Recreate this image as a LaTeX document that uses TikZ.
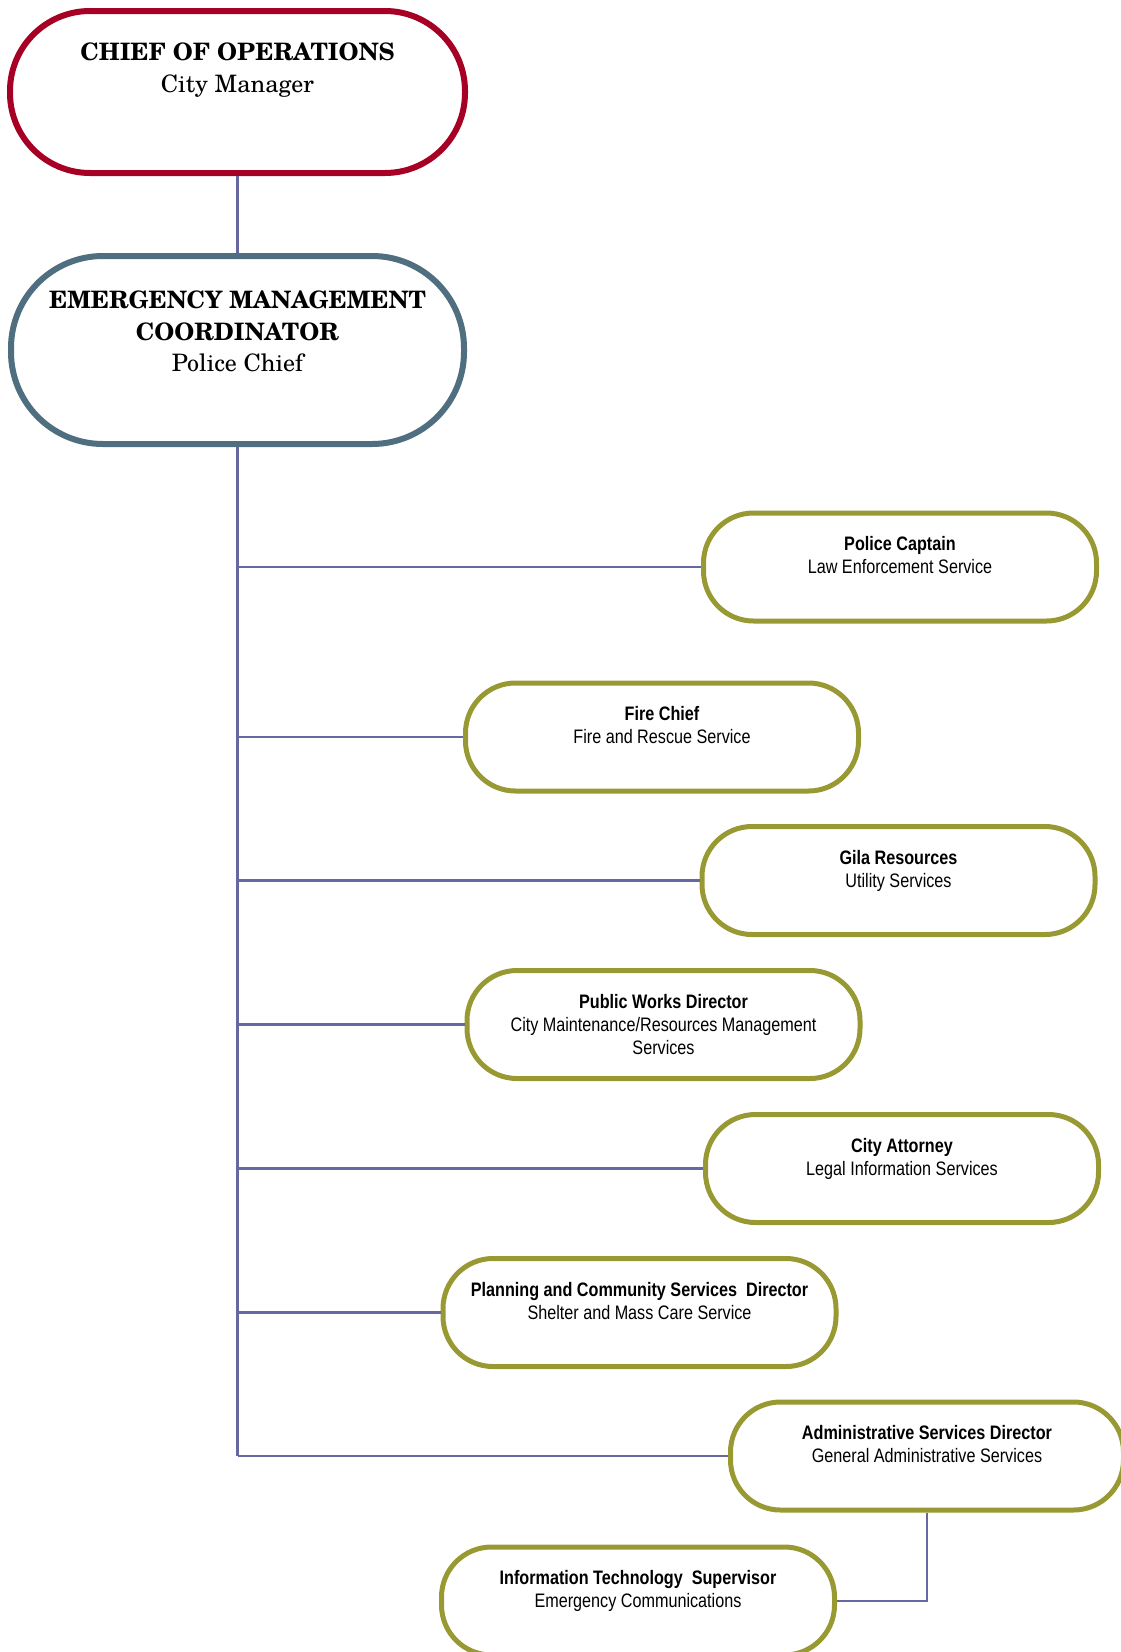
\documentclass[tikz,border=0pt]{standalone}
\usepackage{fontspec}
\setmainfont{TeX Gyre Schola}
\newfontfamily\narrowsans[FakeStretch=0.83]{Liberation Sans}
\usetikzlibrary{positioning}
\definecolor{chiefred}{RGB}{166,0,36}
\definecolor{emcblue}{RGB}{79,111,128}
\definecolor{esfolive}{RGB}{153,153,51}
\definecolor{linkblue}{RGB}{104,104,160}

\begin{document}
\begin{tikzpicture}[x=1pt,y=-1pt,
  redbox/.style={draw=chiefred,line width=6pt,rounded corners=80pt,minimum width=455pt,minimum height=162pt,inner sep=0pt},
  bluebox/.style={draw=emcblue,line width=6pt,rounded corners=92pt,minimum width=453pt,minimum height=188pt,inner sep=0pt},
  esfbox/.style={draw=esfolive,line width=5pt,rounded corners=50pt,minimum width=393pt,minimum height=108pt,inner sep=0pt},
  serlbl/.style={align=center,inner sep=0pt,font=\fontsize{24}{31.5}\selectfont},
  esflbl/.style={align=center,inner sep=0pt,font=\narrowsans\fontsize{19.5}{23}\selectfont},
  link/.style={draw=linkblue,line width=2.2pt}]
\useasboundingbox (0,0) rectangle (1121,1652);
%chief of operations and coordinator
\node[redbox] (coo) at (237.5,92) {};
\node[serlbl,below=35pt of coo.north] (coo-t) {\textbf{CHIEF OF OPERATIONS}\\City Manager};
\node[bluebox] (emc) at (237.5,350) {};
\node[serlbl,below=38pt of emc.north] (emc-t) {\textbf{EMERGENCY MANAGEMENT}\\\textbf{COORDINATOR}\\Police Chief};
%support functions
\node[esfbox] (police) at (900,567) {}; \node[esflbl,below=26pt of police.north] (police-t) {\textbf{Police Captain}\\Law Enforcement Service};
\node[esfbox] (fire) at (662,737) {}; \node[esflbl,below=26pt of fire.north] (fire-t) {\textbf{Fire Chief}\\Fire and Rescue Service};
\node[esfbox] (gila) at (898.5,880.5) {}; \node[esflbl,below=26pt of gila.north] (gila-t) {\textbf{Gila Resources}\\Utility Services};
\node[esfbox] (works) at (663.5,1024.5) {}; \node[esflbl,below=26pt of works.north] (works-t) {\textbf{Public Works Director}\\City Maintenance/Resources Management\\Services};
\node[esfbox] (atty) at (902,1168.5) {}; \node[esflbl,below=26pt of atty.north] (atty-t) {\textbf{City Attorney}\\Legal Information Services};
\node[esfbox] (plan) at (639.5,1312.5) {}; \node[esflbl,below=26pt of plan.north] (plan-t) {\textbf{Planning and Community Services\ \ Director}\\Shelter and Mass Care Service};
\node[esfbox] (admin) at (927,1456) {}; \node[esflbl,below=26pt of admin.north] (admin-t) {\textbf{Administrative Services Director}\\General Administrative Services};
\node[esfbox] (it) at (638,1601) {}; \node[esflbl,below=26pt of it.north] (it-t) {\textbf{Information Technology\ \ Supervisor}\\Emergency Communications};
%lines
\draw[link] (coo) -- (emc);
\draw[link] (emc.south) -- (emc.south |- admin.west);
\draw[link] (emc.south |- police.west) -- (police.west); \draw[link] (emc.south |- fire.west) -- (fire.west);
\draw[link] (emc.south |- gila.west) -- (gila.west); \draw[link] (emc.south |- works.west) -- (works.west);
\draw[link] (emc.south |- atty.west) -- (atty.west); \draw[link] (emc.south |- plan.west) -- (plan.west);
\draw[link] (emc.south |- admin.west) -- (admin.west);
\draw[link] (admin.south) |- (it.east);
\end{tikzpicture}
\end{document}
